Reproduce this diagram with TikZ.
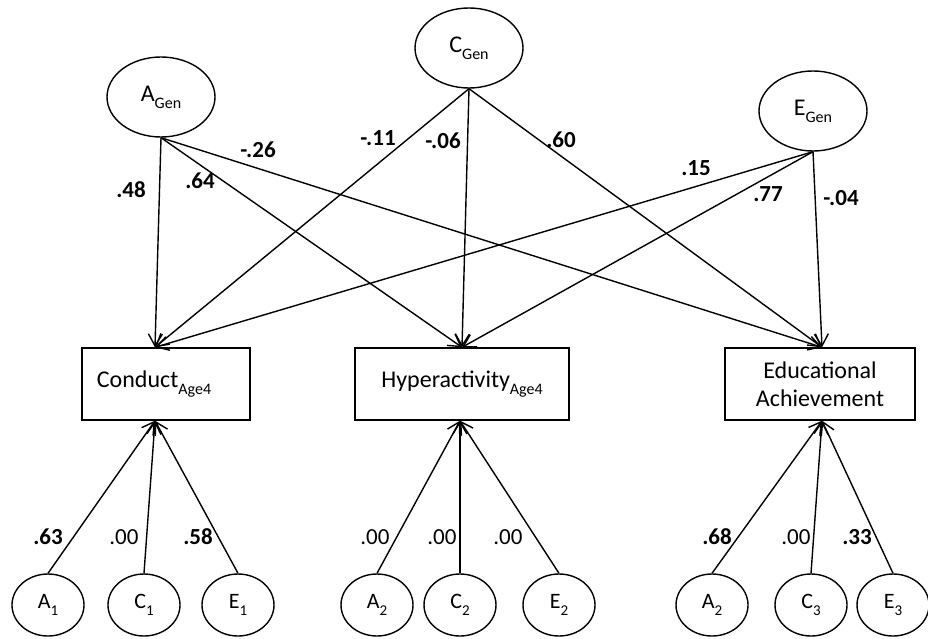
\documentclass[tikz,border=0pt]{standalone}
\usepackage{fontspec}
\setmainfont{Carlito}
\usetikzlibrary{shapes.geometric,arrows.meta}
\newcommand\mysub[1]{\raisebox{-0.3em}{\fontsize{16}{16}\selectfont #1}}
\newcommand\mysubn[1]{\raisebox{-0.3em}{\fontsize{15}{15}\selectfont #1}}
\tikzset{
  latent/.style={draw, ellipse, line width=1.4pt, inner sep=0pt, font=\fontsize{24}{26}\selectfont},
  big/.style={latent, minimum width=108pt, minimum height=80pt},
  small/.style={latent, minimum width=72pt, minimum height=62pt, font=\fontsize{22}{24}\selectfont},
  obs/.style={draw, rectangle, line width=1.4pt, minimum height=72pt, align=center, font=\fontsize{24}{28}\selectfont},
  path/.style={line width=1.4pt, -{Straight Barb[length=12pt,width=14pt,line width=1.4pt]}},
  coef/.style={font=\fontsize{23}{24}\selectfont\bfseries},
  coefn/.style={font=\fontsize{23}{24}\selectfont},
}
\begin{document}
\begin{tikzpicture}[x=1pt,y=-1pt]
\useasboundingbox (0,0) rectangle (928,639);
% top latent
\node[big] (AG) at (161,97) {A\mysub{Gen}};
\node[big] (CG) at (469,48) {C\mysub{Gen}};
\node[big] (EG) at (813,111) {E\mysub{Gen}};
% observed
\node[obs, minimum width=168pt] (CO) at (166,384) {Conduct\mysub{Age4}\hspace*{24pt}};
\node[obs, minimum width=214pt] (HY) at (462,384) {Hyperactivity\mysub{Age4}};
\node[obs, minimum width=190pt] (ED) at (820,384) {Educational\\Achievement};
% bottom latent
\node[small] (A1) at (48,605) {A\mysubn{1}};
\node[small] (C1) at (144,605) {C\mysubn{1}};
\node[small] (E1) at (238,605) {E\mysubn{1}};
\node[small] (A2) at (377,605) {A\mysubn{2}};
\node[small] (C2) at (460,605) {C\mysubn{2}};
\node[small] (E2) at (559,605) {E\mysubn{2}};
\node[small] (A3) at (712,605) {A\mysubn{2}};
\node[small] (C3) at (811,605) {C\mysubn{3}};
\node[small] (E3) at (893,605) {E\mysubn{3}};
% targets
\coordinate (COt) at ([xshift=-11pt]CO.north);
\coordinate (HYt) at ([xshift=0pt]HY.north);
\coordinate (EDt) at ([xshift=2pt]ED.north);
\coordinate (COb) at ([xshift=-11pt]CO.south);
\coordinate (HYb) at ([xshift=-2pt]HY.south);
\coordinate (EDb) at ([xshift=2pt]ED.south);
% top paths
\foreach \s in {AG,CG,EG}{
  \draw[path] (\s.south) -- (COt);
  \draw[path] (\s.south) -- (HYt);
  \draw[path] (\s.south) -- (EDt);
}
% bottom paths
\draw[path] (A1.north) -- (COb);
\draw[path] (C1.north) -- (COb);
\draw[path] (E1.north) -- (COb);
\draw[path] (A2.north) -- (HYb);
\draw[path] (C2.north) -- (HYb);
\draw[path] (E2.north) -- (HYb);
\draw[path] (A3.north) -- (EDb);
\draw[path] (C3.north) -- (EDb);
\draw[path] (E3.north) -- (EDb);
% coefficients
\node[coef] (l1) at (131,190) {.48};
\node[coef] (l2) at (200,181) {.64};
\node[coef] (l3) at (258,150) {-.26};
\node[coef] (l4) at (378,138) {-.11};
\node[coef] (l5) at (443,141) {-.06};
\node[coef] (l6) at (561,140) {.60};
\node[coef] (l7) at (696,168) {.15};
\node[coef] (l8) at (768,194) {.77};
\node[coef] (l9) at (841,198) {-.04};
\node[coef] (b1) at (48,537) {.63};
\node[coefn] (b2) at (124,537) {.00};
\node[coef] (b3) at (198,537) {.58};
\node[coefn] (b4) at (375,537) {.00};
\node[coefn] (b5) at (442,537) {.00};
\node[coefn] (b6) at (508,537) {.00};
\node[coef] (b7) at (717,537) {.68};
\node[coefn] (b8) at (796,537) {.00};
\node[coef] (b9) at (857,537) {.33};
\end{tikzpicture}
\end{document}
